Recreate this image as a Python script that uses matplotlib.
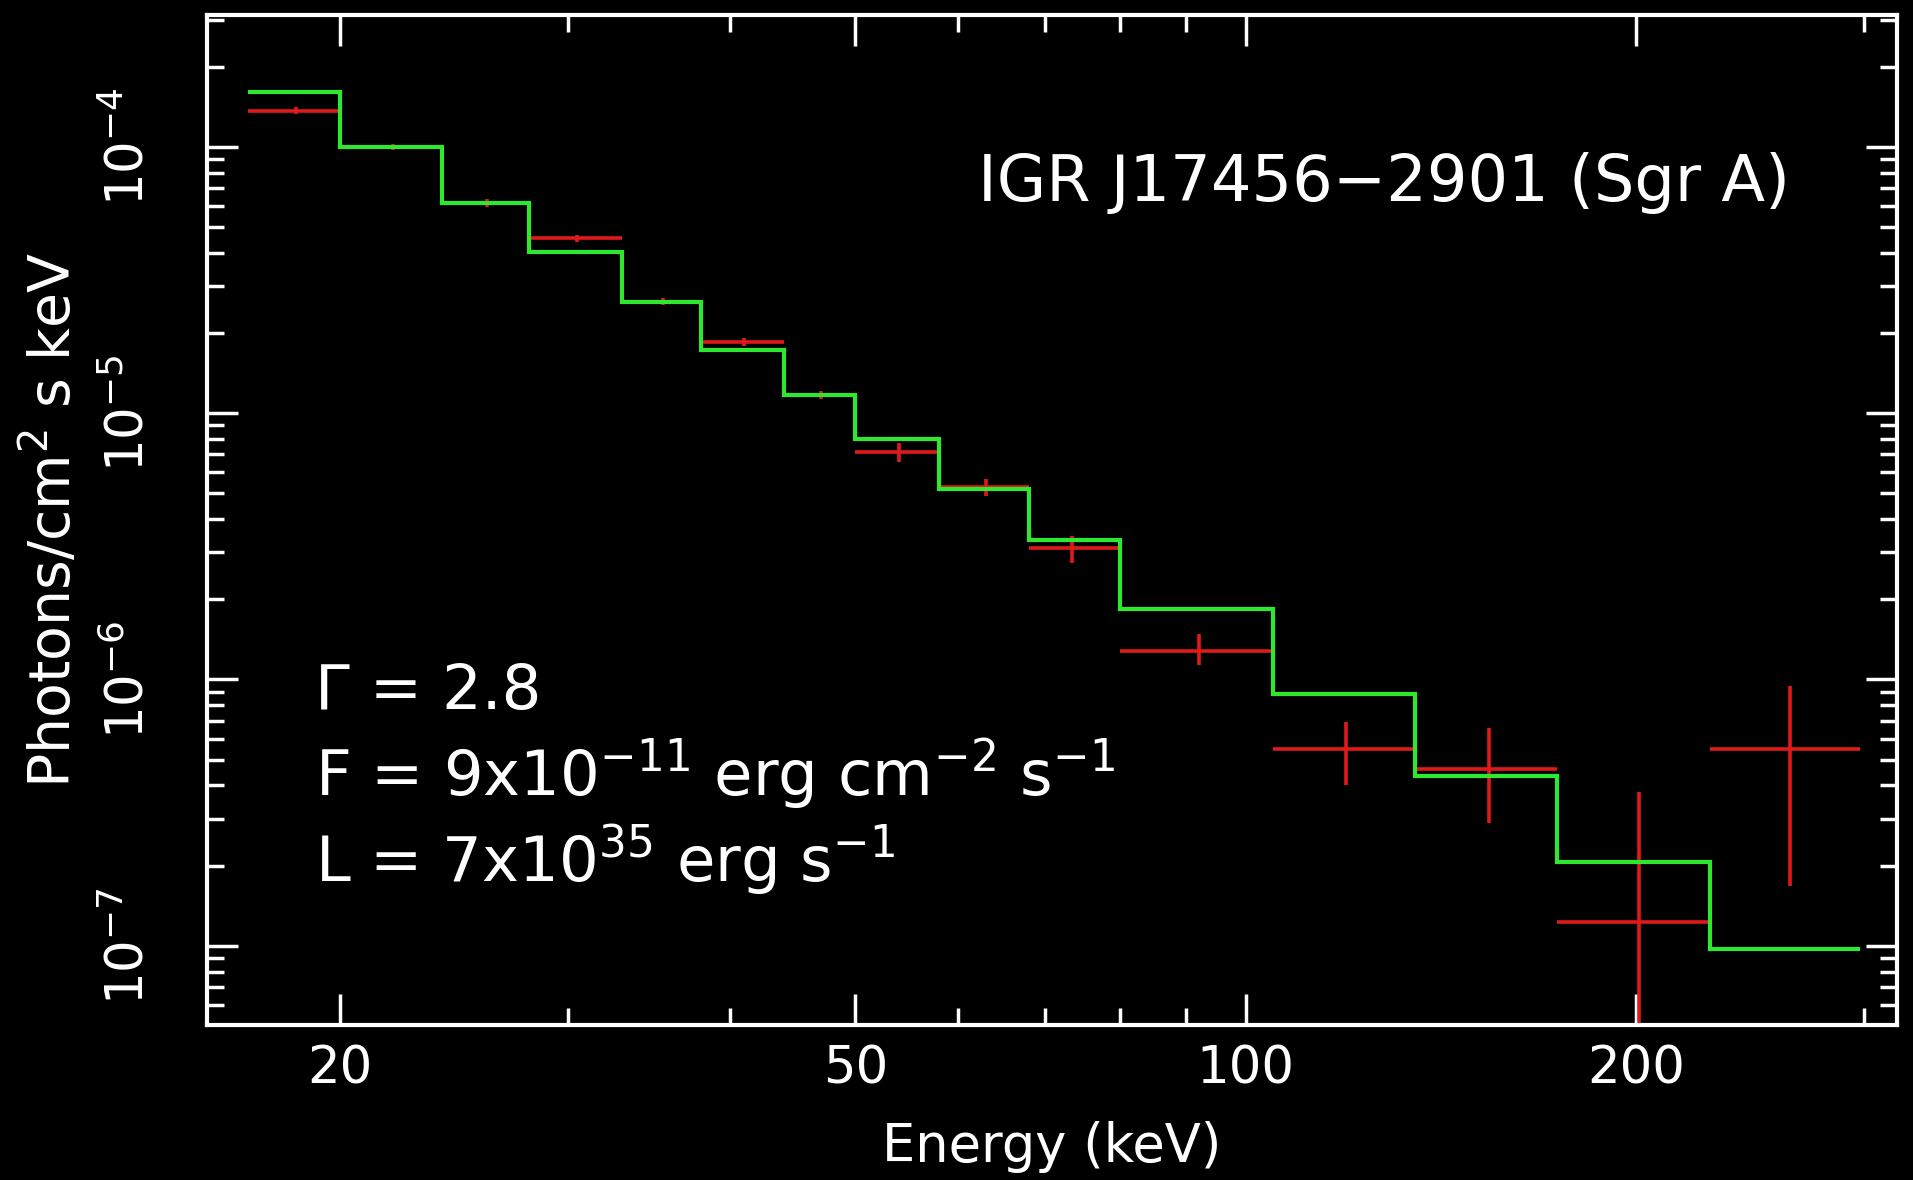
import numpy as np
import matplotlib.pyplot as plt
from matplotlib.ticker import FixedLocator, NullFormatter

plt.rcParams['font.family'] = ['DejaVu Sans']
plt.rcParams['mathtext.default'] = 'regular'

# bin edges (keV) and model / measured fluxes
edges = [17, 20, 24, 28, 33, 38, 44, 50, 58, 68, 80, 105, 135, 174, 228, 298]
model = [1.61e-4, 1.0e-4, 6.15e-5, 4.03e-5, 2.62e-5, 1.73e-5, 1.17e-5, 8.0e-6,
         5.2e-6, 3.35e-6, 1.84e-6, 8.8e-7, 4.35e-7, 2.07e-7, 9.7e-8]
centers = [18.5, 22, 26, 30.5, 35.5, 41, 47, 54, 63, 73.5, 92, 119.5, 154, 201, 263]
flux = [1.37e-4, 1.0e-4, 6.15e-5, 4.53e-5, 2.62e-5, 1.85e-5, 1.17e-5, 7.16e-6,
        5.3e-6, 3.11e-6, 1.28e-6, 5.46e-7, 4.6e-7, 1.23e-7, 5.46e-7]
flux_lo = [1.33e-4, 0.97e-4, 5.95e-5, 4.4e-5, 2.55e-5, 1.79e-5, 1.13e-5, 6.56e-6,
           4.89e-6, 2.74e-6, 1.13e-6, 4.02e-7, 2.9e-7, 4.0e-8, 1.67e-7]
flux_hi = [1.41e-4, 1.03e-4, 6.35e-5, 4.66e-5, 2.7e-5, 1.91e-5, 1.21e-5, 7.76e-6,
           5.66e-6, 3.45e-6, 1.48e-6, 6.95e-7, 6.6e-7, 3.78e-7, 9.44e-7]

fig = plt.figure(figsize=(19.13, 11.80), dpi=100, facecolor='black')
ax = fig.add_axes([0.1082, 0.1314, 0.8834, 0.8559], facecolor='black')

e = np.array(edges)
c = np.array(centers)
f = np.array(flux)
xerr = [c - e[:-1], e[1:] - c]
yerr = [f - np.array(flux_lo), np.array(flux_hi) - f]

ax.errorbar(c, f, xerr=xerr, yerr=yerr, fmt='none', ecolor='#e01a1a',
            elinewidth=2.6, capsize=0, zorder=2)
ax.stairs(model, edges, color='#2ee82e', linewidth=3, baseline=None, zorder=3)

ax.set_xscale('log')
ax.set_yscale('log')
ax.set_xlim(15.8, 318)
ax.set_ylim(5.04e-8, 3.13e-4)

for s in ax.spines.values():
    s.set_color('white')
    s.set_linewidth(3)

ax.xaxis.set_major_locator(FixedLocator([20, 50, 100, 200]))
ax.xaxis.set_minor_locator(FixedLocator([30, 40, 60, 70, 80, 90, 300]))
ax.xaxis.set_minor_formatter(NullFormatter())
ax.set_xticklabels(['20', '50', '100', '200'])

ax.yaxis.set_major_locator(FixedLocator([1e-7, 1e-6, 1e-5, 1e-4]))
ax.yaxis.set_minor_locator(FixedLocator(
    [m * 10.0 ** p for p in range(-8, -3) for m in range(2, 10)]))
ax.yaxis.set_minor_formatter(NullFormatter())
ax.set_yticklabels(['$10^{-7}$', '$10^{-6}$', '$10^{-5}$', '$10^{-4}$'],
                   rotation=90, va='center')

ax.tick_params(which='both', direction='in', colors='white', width=2.5,
               top=True, right=True, labelsize=37)
ax.tick_params(which='major', length=22, pad=14)
ax.tick_params(which='minor', length=12)
ax.tick_params(axis='y', which='major', pad=38)

ax.set_xlabel('Energy (keV)', color='white', fontsize=38, va='center')
ax.xaxis.set_label_coords(0.5, -0.121)
ax.set_ylabel('Photons/cm$^2$ s keV', color='white', fontsize=41, va='center')
ax.yaxis.set_label_coords(-0.092, 0.5)

ax.text(0.937, 0.834, 'IGR J17456\u22122901 (Sgr A)', transform=ax.transAxes,
        color='white', fontsize=46, ha='right', va='center')
ax.text(0.064, 0.330, '\u0393 = 2.8', transform=ax.transAxes,
        color='white', fontsize=45, ha='left', va='center')
ax.text(0.064, 0.248, 'F = 9x10$^{-11}$ erg cm$^{-2}$ s$^{-1}$',
        transform=ax.transAxes, color='white', fontsize=45, ha='left', va='center')
ax.text(0.064, 0.163, 'L = 7x10$^{35}$ erg s$^{-1}$', transform=ax.transAxes,
        color='white', fontsize=45, ha='left', va='center')

fig.savefig('out.png', dpi=100, facecolor='black')
